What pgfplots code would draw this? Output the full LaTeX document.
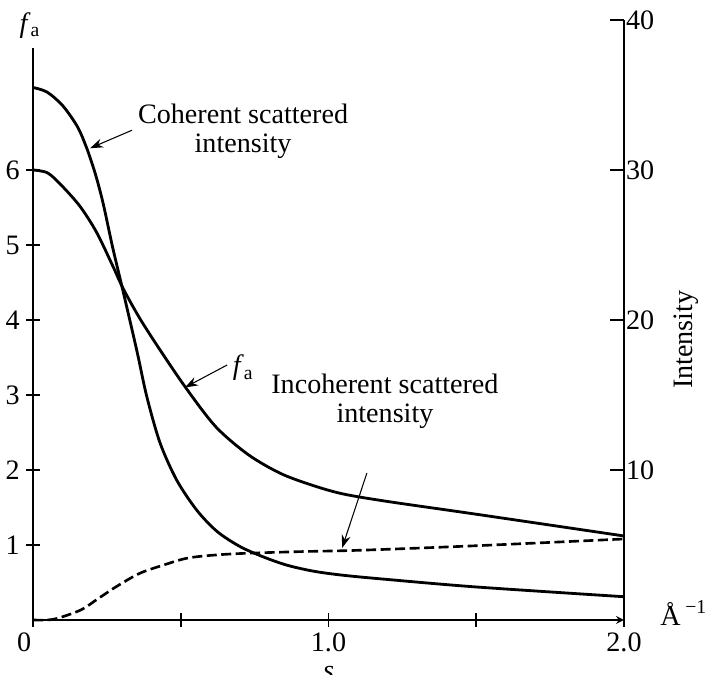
\documentclass[border=0pt]{standalone}
\usepackage{pgfplots}
\pgfplotsset{compat=1.18}
\usepackage{fontspec}
\setmainfont{Liberation Serif}
\usetikzlibrary{arrows.meta}

% shared frame: 1px of the scan = 0.02cm
\pgfplotsset{
  sfplot/.style={
    scale only axis, width=11.82cm, height=12cm,
    xmin=0, xmax=2,
    tick align=inside, major tick length=0.28cm,
    axis line style={line width=1pt,-},
    tick style={line width=1pt,black},
    tick label style={font=\fontsize{16}{17}\selectfont},
    label style={font=\fontsize{16}{17}\selectfont},
    /pgf/number format/assume math mode=true,
    clip=false,
  },
  curve/.style={line width=1.6pt, black, smooth},
}
\tikzset{lbl/.style={font=\fontsize{16}{16.5}\selectfont, align=center},
  pointer/.style={-{Stealth[length=2.6mm,width=1.8mm]}, line width=0.6pt}}

\begin{document}
\begin{tikzpicture}
% left scale: f_a
\begin{axis}[sfplot,
  ymin=0, ymax=8,
  axis x line=bottom, axis y line=left,
  y axis line style={draw=none},
  xtick={0,0.5,1,1.5,2},
  xticklabels={\makebox[0pt][r]{0\hspace{1pt}},,1.0,,2.0},
  ytick={1,2,3,4,5,6},
  xlabel={\textit{s}},
  x label style={at={(axis description cs:0.5,-0.066)},anchor=north},
]
\draw[line width=1pt] (axis cs:0,0) -- (axis cs:0,7.63);
\addplot[curve] coordinates {
  (0,6.0) (0.05,5.96) (0.10,5.78) (0.16,5.51) (0.215,5.17) (0.27,4.72)
  (0.305,4.42) (0.36,4.03) (0.43,3.60) (0.52,3.08) (0.62,2.57) (0.73,2.20)
  (0.84,1.95) (0.95,1.79) (1.05,1.68) (1.2,1.58) (1.5,1.41) (2.0,1.12)
};
\node[lbl] at (axis cs:0.711,6.52) {Coherent scattered\\intensity};
\draw[pointer] (axis cs:0.335,6.53) -- (axis cs:0.193,6.29);
\node[lbl] at (axis cs:0.711,3.36) {\textit{f}\textsubscript{a}};
\draw[pointer] (axis cs:0.657,3.40) -- (axis cs:0.514,3.10);
\node[lbl] at (axis cs:1.191,2.92) {Incoherent scattered\\intensity};
\draw[pointer] (axis cs:1.130,1.96) -- (axis cs:1.046,0.96);
\node[lbl] at (axis cs:-0.0102,7.93) {\textit{f}\textsubscript{a}};
\node[lbl, anchor=base west, inner sep=0pt] at (axis cs:2.122,-0.067) {Å\,\textsuperscript{−1}};
\coordinate (bl) at (axis cs:-0.1117,-0.7333);
\coordinate (tr) at (axis cs:2.2911,8.2667);
\end{axis}
% right scale: intensity
\begin{axis}[sfplot,
  ymin=0, ymax=40,
  axis x line=none, axis y line*=right,
  ytick={10,20,30,40},
  yticklabel style={inner xsep=1pt},
  ylabel={Intensity},
  y label style={at={(axis description cs:1.105,0.467)},anchor=center},
]
\addplot[curve] coordinates {
  (0,35.5) (0.047,35.2) (0.10,34.3) (0.15,32.9) (0.18,31.55) (0.21,29.8)
  (0.237,27.8) (0.27,24.8) (0.305,21.9) (0.352,17.9) (0.385,14.9) (0.43,11.8)
  (0.487,9.3) (0.555,7.3) (0.623,5.9) (0.70,4.9) (0.78,4.2) (0.86,3.65)
  (0.95,3.25) (1.05,2.98) (1.2,2.7) (1.5,2.2) (2.0,1.55)
};
\addplot[curve, line width=1.5pt, dash pattern=on 0.2cm off 0.09cm] coordinates {
  (0,0) (0.07,0.05) (0.16,0.65) (0.215,1.35) (0.28,2.2) (0.36,3.1)
  (0.44,3.65) (0.53,4.15) (0.67,4.4) (0.89,4.55) (1.11,4.65) (1.5,4.95) (2.0,5.4)
};
\end{axis}
\pgfresetboundingbox
\path[use as bounding box] (bl) rectangle (tr);
\end{tikzpicture}
\end{document}
